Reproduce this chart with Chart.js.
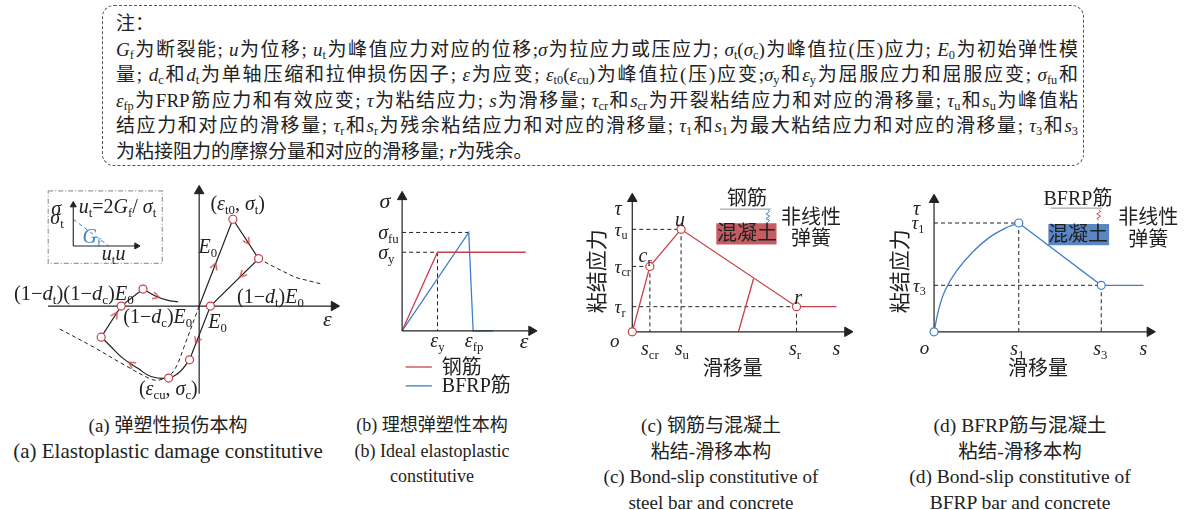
<!DOCTYPE html>
<html>
<head>
<meta charset="utf-8">
<script src="https://cdn.jsdelivr.net/npm/chart.js@4.4.0/dist/chart.umd.min.js"></script>
<style>
body { margin: 0; width: 1189px; height: 510px; background: #fff; position: relative; overflow: hidden;
       font-family: "Liberation Serif", "Noto Sans CJK SC", serif; color: #222; }
.note { position: absolute; left: 102px; top: 5px; width: 982px; height: 161px; border: 1px dashed #555;
        border-radius: 12px; box-sizing: border-box; }
.note .txt { position: absolute; left: 13px; top: 5px; width: 962px; font-size: 19px; line-height: 25.6px; }
.note .ln { text-align: justify; text-align-last: justify; height: 25.6px; }
.note .ln.last { text-align-last: left; }
sub { font-size: 0.65em; vertical-align: -0.28em; line-height: 0; font-style: normal; }
canvas { position: absolute; }
.cap { position: absolute; font-size: 19px; line-height: 25.5px; text-align: center; white-space: nowrap; transform: translateX(-50%); }
</style>
</head>
<body>
<div class="note"><div class="txt">
<div class="ln last">注：</div>
<div class="ln"><i>G</i><sub>f</sub>为断裂能; <i>u</i>为位移; <i>u</i><sub>t</sub>为峰值应力对应的位移;<i>σ</i>为拉应力或压应力; <i>σ</i><sub>t</sub>(<i>σ</i><sub>c</sub>)为峰值拉(压)应力; <i>E</i><sub>0</sub>为初始弹性模</div>
<div class="ln">量; <i>d</i><sub>c</sub>和<i>d</i><sub>t</sub>为单轴压缩和拉伸损伤因子; <i>ε</i>为应变; <i>ε</i><sub>t0</sub>(<i>ε</i><sub>cu</sub>)为峰值拉(压)应变;<i>σ</i><sub>y</sub>和<i>ε</i><sub>y</sub>为屈服应力和屈服应变; <i>σ</i><sub>fu</sub>和</div>
<div class="ln"><i>ε</i><sub>fp</sub>为FRP筋应力和有效应变; <i>τ</i>为粘结应力; <i>s</i>为滑移量; <i>τ</i><sub>cr</sub>和<i>s</i><sub>cr</sub>为开裂粘结应力和对应的滑移量; <i>τ</i><sub>u</sub>和<i>s</i><sub>u</sub>为峰值粘</div>
<div class="ln">结应力和对应的滑移量; <i>τ</i><sub>r</sub>和<i>s</i><sub>r</sub>为残余粘结应力和对应的滑移量; <i>τ</i><sub>1</sub>和<i>s</i><sub>1</sub>为最大粘结应力和对应的滑移量; <i>τ</i><sub>3</sub>和<i>s</i><sub>3</sub></div>
<div class="ln last">为粘接阻力的摩擦分量和对应的滑移量; <i>r</i>为残余。</div>
</div></div>

<canvas id="chartA" width="355" height="230" style="left:0;top:175px"></canvas>
<canvas id="chartB" width="210" height="230" style="left:355px;top:175px"></canvas>
<canvas id="chartC" width="300" height="230" style="left:570px;top:175px"></canvas>
<canvas id="chartD" width="319" height="230" style="left:870px;top:175px"></canvas>

<div class="cap" style="left:168px;top:413px">(a) 弹塑性损伤本构<br><span style="font-size:21px">(a) Elastoplastic damage constitutive</span></div>
<div class="cap" style="left:432px;top:413px;font-size:18px">(b) 理想弹塑性本构<br>(b) Ideal elastoplastic<br>constitutive</div>
<div class="cap" style="left:711px;top:413px">(c) 钢筋与混凝土<br>粘结-滑移本构<br>(c) Bond-slip constitutive of<br>steel bar and concrete</div>
<div class="cap" style="left:1020px;top:413px;font-size:19.5px">(d) BFRP筋与混凝土<br>粘结-滑移本构<br>(d) Bond-slip constitutive of<br>BFRP bar and concrete</div>

<script>
// Schematic constitutive curves (units are schematic strain / stress, origin at 0)

const RED = '#c8404a';
const BLUE = '#3f7fc8';
const INK = '#222';
const SERIF = '"Liberation Serif", "Noto Sans CJK SC", serif';

// (a) elastoplastic damage constitutive
const aLoadPath = [[0, 0], [35, 92], [61.7, 50.3], [11.7, 0], [-10, -57]];
const aCompCurve = [[-10, -57], [-20, -69.7], [-31.7, -76.3], [-50, -74.7], [-63.3, -66.3], [-80, -54.7], [-93.3, -41.3], [-101.7, -33]];
const aReload = [[-101.7, -33], [-81, 0], [-58.3, 18]];
const aTensCurve = [[-58.3, 18], [-45, 10.3], [-33.3, 6.3], [-21.7, 4.3]];
const aTensTail = [[61.7, 50.3], [80, 40.3], [100, 30.3], [128.3, 23]];
const aCompEnvelope = [[0, 0], [-16, -44], [-23.3, -63.3], [-31, -74], [-42, -78.5], [-50, -77.5], [-76.7, -63], [-110, -43.3], [-146.7, -23.3]];
const aNodes = [[35, 92], [61.7, 50.3], [11.7, 0], [-10, -57], [-31.7, -76.3], [-101.7, -33], [-81, 0], [-58.3, 18]];
const aFlowArrows = [[16, 42, 21], [50, 68.6, 147], [45, 33.5, 225], [-2.1, -36.3, 201], [-70, -61.6, 305], [-87.1, -9.7, 32], [-45, 10.3, 107]];
const aInsetFrame = [[-156.7, 122], [-38.3, 122], [-38.3, 45.3], [-156.7, 45.3], [-156.7, 122]];
const aInsetSoft = [[-130.7, 92], [-94, 63.7]];
const aLabels = [
    [40, 109, '($ε$_{t0}, $σ$_{t})', 20, 'center'],
    [9, 63, '$E$_{0}', 20, 'center'],
    [74, 10, '(1−$d$_{t})$E$_{0}', 20, 'center'],
    [19, -16, '$E$_{0}', 20, 'center'],
    [-43, -11, '(1−$d$_{c})$E$_{0}', 20, 'center'],
    [-130, 14, '(1−$d$_{t})(1−$d$_{c})$E$_{0}', 20.5, 'center'],
    [-32, -87, '($ε$_{cu}, $σ$_{c})', 20, 'center'],
    [133, -13, '$ε$', 22, 'center'],
    [-148.5, 104, '$σ$', 20, 'center'],
    [-147.5, 94, '$σ$_{t}', 20, 'center'],
    [-125, 106, '$u$_{t}=2$G$_{f}/ $σ$_{t}', 20, 'left'],
    [-121, 73.5, '$G$_{f}', 20, 'left', BLUE],
    [-101, 56, '$u$_{t}$u$', 20, 'left']
];

// (b) ideal elastoplastic constitutive
const bSteel = [[0, 0], [37.7, 83.3], [131.7, 83.3]];
const bBfrp = [[0, 0], [71, 104.3], [75.7, 0], [96.7, 0]];
const bGuides = [[[0, 104.3], [71, 104.3]], [[0, 83.3], [37.7, 83.3]], [[37.7, 83.3], [37.7, 0]]];
const bSeriesNames = ['钢筋', 'BFRP筋'];
const bLabels = [
    [-18.3, 138, '$σ$', 22, 'center'],
    [-25.5, 104.3, '$σ$_{fu}', 20, 'left'],
    [-25.5, 83.3, '$σ$_{y}', 20, 'left'],
    [37.7, -10, '$ε$_{y}', 20, 'center'],
    [76.7, -10, '$ε$_{fp}', 20, 'center'],
    [130, -10.7, '$ε$', 22, 'center']
];

// (c) bond-slip of steel bar and concrete
const cSteel = [[0, 0], [18.4, 69.3], [51, 108.6], [171.7, 26.6], [213.4, 26.6]];
const cUnload = [[111, 0], [126.7, 56]];
const cNodes = [[0, 0], [18.4, 69.3], [51, 108.6], [171.7, 26.6]];
const cGuides = [[[0, 108.6], [51, 108.6]], [[0, 69.3], [18.4, 69.3]], [[0, 26.6], [171.7, 26.6]],
                 [[18.4, 69.3], [18.4, 0]], [[51, 108.6], [51, 0]], [[171.7, 26.6], [171.7, 0]]];
const cBar = [[91.7, 130], [145, 130]];
const cSpring = [[141.7, 129.5], [143.7, 127.5], [139.7, 125], [143.7, 122.5], [139.7, 120], [143.7, 118], [141.7, 116.5]];
const cBlock = [[87.7, 115], [151, 115]];
const cBlockBase = 92.6;
const cLabels = [
    [-18.5, 131, '$τ$', 20, 'left'],
    [-18.5, 108.6, '$τ$_{u}', 19, 'left'],
    [-18.5, 69.3, '$τ$_{cr}', 19, 'left'],
    [-18.5, 26.6, '$τ$_{r}', 19, 'left'],
    [-18.3, -9, '$o$', 19, 'center'],
    [18.4, -17.4, '$s$_{cr}', 20, 'center'],
    [51.7, -17.4, '$s$_{u}', 20, 'center'],
    [170, -17.4, '$s$_{r}', 20, 'center'],
    [213.4, -17.4, '$s$', 20, 'center'],
    [13.4, 80.5, '$c$_{r}', 20, 'center'],
    [50, 119.5, '$u$', 20, 'center'],
    [173.4, 36, '$r$', 20, 'center'],
    [105, -39, '滑移量', 20, 'center'],
    [-36.6, 64.3, '粘结应力', 21, 'center', INK, true],
    [120, 141.5, '钢筋', 20, 'center'],
    [120, 104, '混凝土', 20, 'center'],
    [186.7, 121, '非线性', 20, 'center'],
    [186.7, 99.3, '弹簧', 20, 'center']
];

// (d) bond-slip of BFRP bar and concrete
const dRise = [[0, 0], [5, 24.3], [11.7, 44.3], [23.3, 64.3], [40, 84.3], [56.7, 99.3], [73.3, 109.3], [88.3, 115.3]];
const dSoft = [[88.3, 115.3], [174.3, 49.3], [218.3, 49.3]];
const dNodes = [[0, 0], [88.3, 115.3], [174.3, 49.3]];
const dGuides = [[[0, 115.3], [88.3, 115.3]], [[88.3, 115.3], [88.3, 0]], [[0, 49.3], [174.3, 49.3]], [[174.3, 49.3], [174.3, 0]]];
const dBar = [[121.7, 131], [175, 131]];
const dSpring = [[171.7, 129.5], [173.7, 127.5], [169.7, 125], [173.7, 122.5], [169.7, 120], [171.7, 118.5]];
const dBlock = [[119, 114.3], [182.7, 114.3]];
const dBlockBase = 91.6;
const dLabels = [
    [-18.3, 131, '$τ$', 20, 'center'],
    [-23.5, 115.3, '$τ$_{1}', 19, 'left'],
    [-22, 49.3, '$τ$_{3}', 19, 'left'],
    [-10, -17.4, '$o$', 19, 'center'],
    [86.7, -17.4, '$s$_{1}', 20, 'center'],
    [173.3, -17.4, '$s$_{3}', 20, 'center'],
    [218.3, -17.4, '$s$', 20, 'center'],
    [108.3, -39, '滑移量', 20, 'center'],
    [-35, 64.3, '粘结应力', 21, 'center', INK, true],
    [150, 141.5, 'BFRP筋', 20, 'center'],
    [150, 103, '混凝土', 20, 'center'],
    [223.3, 121, '非线性', 20, 'center'],
    [223.3, 98, '弹簧', 20, 'center']
];

// ---- helpers ----
const pts = arr => arr.map(p => ({ x: p[0], y: p[1] }));

function solid(data, color, width, extra) {
    return Object.assign({ data: pts(data), borderColor: color, borderWidth: width || 1.2, pointRadius: 0, fill: false, tension: 0, order: 2 }, extra || {});
}
function dashed(data, color) {
    return { data: pts(data), borderColor: color || INK, borderWidth: 1, borderDash: [4, 3], pointRadius: 0, fill: false, order: 3 };
}
function nodes(data, color) {
    return { data: pts(data), showLine: false, pointRadius: 4, pointBorderColor: color, pointBackgroundColor: '#fff', pointBorderWidth: 1.2, order: 0 };
}
function heads(data, r) {
    return { data: pts(data), showLine: false, pointStyle: 'triangle', pointRotation: data.map(p => p[2]), pointRadius: r, pointBackgroundColor: INK, pointBorderColor: INK, pointBorderWidth: 1, order: 0 };
}
function axes(xEnd, yEnd, xStart, yStart) {
    return [
        solid([[xStart || 0, 0], [xEnd, 0]], INK, 1.2, { order: 1 }),
        solid([[0, yStart || 0], [0, yEnd]], INK, 1.2, { order: 1 }),
        heads([[xEnd, 0, 90], [0, yEnd, 0]], 5.5)
    ];
}
function block(top, base, color) {
    return { data: pts(top), borderWidth: 0, pointRadius: 0, backgroundColor: color, fill: { target: { value: base } }, order: 5 };
}

// open arrowhead used along the loading path
const chevron = document.createElement('canvas');
chevron.width = 10; chevron.height = 10;
(function () {
    const g = chevron.getContext('2d');
    g.strokeStyle = RED; g.lineWidth = 1.3;
    g.beginPath(); g.moveTo(1.5, 8); g.lineTo(5, 1.5); g.lineTo(8.5, 8); g.stroke();
})();

function parseRich(str) {
    const segs = [];
    let i = 0, italic = false;
    while (i < str.length) {
        if (str[i] === '$') { italic = !italic; i++; continue; }
        if (str[i] === '_' && str[i + 1] === '{') {
            const j = str.indexOf('}', i);
            segs.push({ t: str.slice(i + 2, j), sub: true, it: false });
            i = j + 1;
            continue;
        }
        let j = i;
        while (j < str.length && str[j] !== '$' && !(str[j] === '_' && str[j + 1] === '{')) j++;
        segs.push({ t: str.slice(i, j), sub: false, it: italic });
        i = j;
    }
    return segs;
}

function drawRich(ctx, str, x, y, size, align, color) {
    const segs = parseRich(str);
    let w = 0;
    segs.forEach(s => {
        s.size = s.sub ? size * 0.64 : size;
        s.font = (s.it ? 'italic ' : '') + s.size + 'px ' + SERIF;
        ctx.font = s.font;
        s.w = ctx.measureText(s.t).width;
        w += s.w;
    });
    let cx = align === 'center' ? x - w / 2 : align === 'right' ? x - w : x;
    const base = y + size * 0.33;
    ctx.fillStyle = color || INK;
    ctx.textBaseline = 'alphabetic';
    ctx.textAlign = 'left';
    segs.forEach(s => {
        ctx.font = s.font;
        ctx.fillText(s.t, cx, base + (s.sub ? size * 0.2 : 0));
        cx += s.w;
    });
}

function textPlugin(labels, legend) {
    return {
        id: 'schematicText',
        afterDatasetsDraw(chart) {
            const ctx = chart.ctx;
            const sx = chart.scales.x, sy = chart.scales.y;
            ctx.save();
            labels.forEach(l => {
                const px = sx.getPixelForValue(l[0]), py = sy.getPixelForValue(l[1]);
                if (l[6]) {
                    ctx.save();
                    ctx.translate(px, py);
                    ctx.rotate(-Math.PI / 2);
                    drawRich(ctx, l[2], 0, 0, l[3], 'center', l[5]);
                    ctx.restore();
                } else {
                    drawRich(ctx, l[2], px, py, l[3], l[4], l[5]);
                }
            });
            if (legend) {
                legend.forEach(item => {
                    const y = sy.getPixelForValue(item.y);
                    ctx.strokeStyle = item.color;
                    ctx.lineWidth = 1.3;
                    ctx.beginPath();
                    ctx.moveTo(sx.getPixelForValue(item.x0), y);
                    ctx.lineTo(sx.getPixelForValue(item.x1), y);
                    ctx.stroke();
                    drawRich(ctx, item.text, sx.getPixelForValue(item.x1) + 10, y, 20, 'left');
                });
            }
            ctx.restore();
        }
    };
}

function makeChart(id, range, datasets, labels, legend) {
    return new Chart(document.getElementById(id), {
        type: 'line',
        data: { datasets: datasets },
        options: {
            responsive: false,
            animation: false,
            devicePixelRatio: 1,
            events: [],
            layout: { padding: 0 },
            plugins: { legend: { display: false }, tooltip: { enabled: false } },
            scales: {
                x: { type: 'linear', display: false, min: range[0], max: range[1] },
                y: { type: 'linear', display: false, min: range[2], max: range[3] }
            }
        },
        plugins: [textPlugin(labels, legend)]
    });
}

// ---- (a) ----
makeChart('chartA', [-200, 155, -98, 132], [
    ...axes(140, 122, -157, -93),
    solid(aLoadPath, INK),
    solid(aCompCurve, INK, 1.2, { tension: 0.4 }),
    solid(aReload, INK),
    solid(aTensCurve, INK, 1.2, { tension: 0.4 }),
    dashed(aTensTail),
    Object.assign(dashed(aCompEnvelope), { tension: 0.35 }),
    nodes(aNodes, RED),
    { data: pts(aFlowArrows), showLine: false, pointStyle: chevron, pointRotation: aFlowArrows.map(p => p[2]), order: 0 },
    Object.assign(dashed(aInsetFrame, '#9a9a9a'), { borderDash: [5, 2, 1, 2], borderWidth: 1.2 }),
    solid([[-130.7, 63.7], [-65, 63.7]], INK, 1.1),
    solid([[-130.7, 63.7], [-130.7, 107]], INK, 1.1),
    heads([[-65, 63.7, 90], [-130.7, 107, 0]], 3.5),
    dashed(aInsetSoft, BLUE)
], aLabels);

// ---- (b) ----
makeChart('chartB', [-43.3, 166.7, -71.7, 158.3], [
    ...axes(138, 142),
    ...bGuides.map(g => dashed(g)),
    solid(bSteel, RED, 1.3),
    solid(bBfrp, BLUE, 1.3)
], bLabels, [
    { x0: 3.7, x1: 31.7, y: -38.3, color: RED, text: bSeriesNames[0] },
    { x0: 3.7, x1: 31.7, y: -58.3, color: BLUE, text: bSeriesNames[1] }
]);

// ---- (c) ----
makeChart('chartC', [-58.3, 241.7, -70.7, 159.3], [
    ...axes(225, 141),
    ...cGuides.map(g => dashed(g)),
    solid(cSteel, RED, 1.3),
    solid(cUnload, RED, 1.3),
    nodes(cNodes, RED),
    solid(cBar, '#a8a8a8', 1.3),
    solid(cSpring, BLUE, 1),
    block(cBlock, cBlockBase, '#c45c62')
], cLabels);

// ---- (d) ----
makeChart('chartD', [-60, 259, -70.7, 159.3], [
    ...axes(225, 140),
    ...dGuides.map(g => dashed(g)),
    solid(dRise, BLUE, 1.3, { tension: 0.4 }),
    solid(dSoft, BLUE, 1.3),
    nodes(dNodes, BLUE),
    solid(dBar, '#a8a8a8', 1.3),
    solid(dSpring, RED, 1),
    block(dBlock, dBlockBase, '#5b86c4')
], dLabels);
</script>
</body>
</html>
